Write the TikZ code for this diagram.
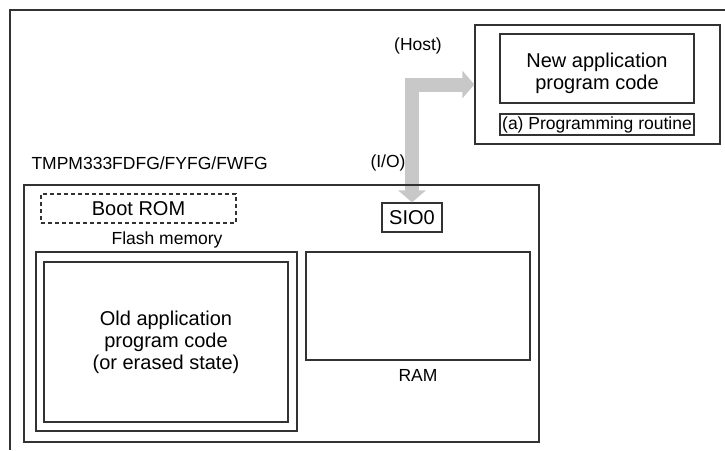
\documentclass[tikz,border=0pt]{standalone}
\usepackage{fontspec}
\setmainfont{Liberation Sans}
\usetikzlibrary{arrows.meta}
\definecolor{arrowgray}{RGB}{200,200,200}
\definecolor{linegray}{RGB}{50,50,50}
\begin{document}
\begin{tikzpicture}[x=1pt,y=-1pt,font={\fontsize{17.5}{21}\selectfont},
	box/.style={draw=linegray,line width=1.2pt,inner sep=0pt},
	dashbox/.style={box,dash pattern=on 4pt off 3pt},
	bigtext/.style={font={\fontsize{20}{22}\selectfont},align=center},
	iofeed/.style={arrowgray,line width=14pt,line join=miter,
		{Triangle[width=27pt,length=12pt]}-{Triangle[width=27pt,length=12pt]}}]
	%%Khung
	\useasboundingbox (0,0) rectangle (725,450);
	\draw[line width=1.2pt,linegray] (725,10) -- (10,10) -- (10,450);
	%%May chu
	\node[box,minimum width=245pt,minimum height=119pt] (host) at (597.5,84.5) {};
	\node[box,minimum width=194pt,minimum height=69pt] (newcode) at (597,68.5) {};
	\node[bigtext] (newtxt) at (597,73) {New application\\program code};
	\node[box,minimum width=194pt,minimum height=21pt] (routine) at (597,124.5) {(a) Programming routine};
	\node (hostlbl) at (418,46) {(Host)};
	%%Vi dieu khien
	\node[box,bigtext,minimum width=60pt,minimum height=29pt] (sio) at (412,217.5) {SIO0};
	\draw[iofeed] (sio.north) |- (host.west);
	\node[box,minimum width=515pt,minimum height=257pt] (chip) at (281.5,313.5) {};
	\node[anchor=west] (chiplbl) at (28,163) {TMPM333FDFG/FYFG/FWFG};
	\node (iolbl) at (388,163) {(I/O)};
	\node[dashbox,bigtext,minimum width=195pt,minimum height=29pt] (bootrom) at (138.5,208.5) {Boot ROM};
	\node (flashlbl) at (167,240) {Flash memory};
	\node[box,line width=1.6pt,minimum width=261pt,minimum height=179pt] (flash) at (166.5,341.5) {};
	\node[box,bigtext,minimum width=244pt,minimum height=160pt] (oldcode) at (166,342) {Old application\\program code\\(or erased state)};
	\node[box,minimum width=224pt,minimum height=108pt] (ram) at (418,306) {};
	\node (ramlbl) at (418,375) {RAM};
\end{tikzpicture}
\end{document}
